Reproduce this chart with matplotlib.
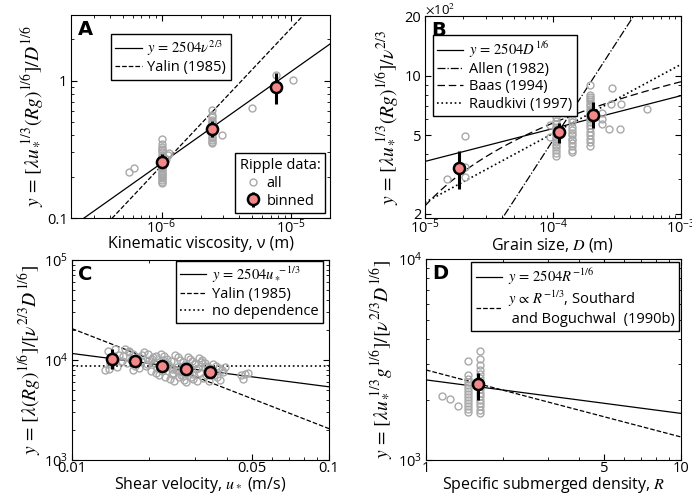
import numpy as np
import matplotlib
matplotlib.use("Agg")
import matplotlib.pyplot as plt
from matplotlib.ticker import FixedLocator, FuncFormatter, NullFormatter

plt.rcParams["font.family"] = ["Open Sans", "DejaVu Sans"]
plt.rcParams["mathtext.fontset"] = "stix"
plt.rcParams["font.size"] = 10

# ---- panel A: kinematic viscosity ----
a_nu_all = [1e-6] * 25 + [5.6e-7, 6.1e-7, 1.05e-6, 1.08e-6, 1.12e-6, 1.15e-6] \
    + [2.46e-6] * 16 + [2.95e-6, 5.0e-6, 7.6e-6, 1.04e-5]
a_y_all = [0.18, 0.184, 0.19, 0.196, 0.2, 0.206, 0.21, 0.214, 0.22, 0.226, 0.23, 0.236,
           0.24, 0.246, 0.25, 0.262, 0.27, 0.28, 0.288, 0.30, 0.31, 0.32, 0.33, 0.345, 0.375,
           0.215, 0.23, 0.26, 0.27, 0.285, 0.295,
           0.35, 0.36, 0.37, 0.38, 0.39, 0.41, 0.42, 0.44, 0.46, 0.47, 0.49, 0.50, 0.52,
           0.54, 0.56, 0.61,
           0.40, 0.63, 1.10, 1.01]
a_nu_bin = [1e-6, 2.46e-6, 7.6e-6]
a_y_bin = [0.257, 0.446, 0.90]
a_y_lo = [0.232, 0.39, 0.67]
a_y_hi = [0.29, 0.505, 1.14]
yalin_a = 2.4e5  # y = c * nu

# ---- panel B: grain size ----
b_d_all = [1.05e-4] * 16 + [1.40e-4] * 14 + [1.95e-4] * 20 \
    + [1.49e-5, 2.05e-5, 2.05e-5, 2.05e-5, 1.16e-4, 9.5e-5, 9.5e-5, 1.25e-4,
       2.4e-4, 2.4e-4, 2.4e-4, 2.87e-4, 2.85e-4, 3.4e-4, 2.76e-4, 3.35e-4, 5.45e-4]
b_y_all = [390, 405, 420, 435, 445, 460, 475, 490, 505, 520, 535, 550, 570, 590, 620, 660,
           410, 420, 440, 455, 470, 480, 500, 515, 530, 550, 580, 600, 640, 670,
           440, 460, 480, 500, 520, 540, 560, 580, 600, 620, 640, 660, 680, 700, 720, 740,
           760, 780, 800, 900,
           298, 492, 343, 305, 690, 560, 490, 650,
           650, 600, 570, 870, 720, 720, 535, 535, 675]
b_d_bin = [1.85e-5, 1.12e-4, 2.07e-4]
b_y_bin = [342, 516, 635]
b_y_lo = [268, 455, 543]
b_y_hi = [413, 576, 734]
allen_c = 4.7e6                   # y = c * D
baas_k, baas_a, baas_b = 4.73, 75.4, 197.0   # y = k*(a*log10(D in mm) + b)
raud_c, raud_p = 12800.0, 0.35    # y = c * D^p

# ---- panel C: shear velocity ----
c_u_all = [0.0135, 0.0138, 0.0141, 0.0144, 0.0147, 0.015, 0.0153, 0.0156, 0.0158, 0.0139,
           0.0161, 0.0164, 0.0167, 0.017, 0.0173, 0.0176, 0.0179, 0.0182, 0.0185, 0.0188,
           0.0166, 0.0172,
           0.0191, 0.0194, 0.0197, 0.02, 0.0203, 0.0206, 0.0209, 0.0212, 0.0215, 0.0218,
           0.0196, 0.0205, 0.0213,
           0.0222, 0.0225, 0.0228, 0.0231, 0.0234, 0.0237, 0.024, 0.0243, 0.0246, 0.0249,
           0.0227, 0.0236, 0.0244, 0.0233, 0.0248,
           0.0252, 0.0255, 0.0258, 0.0261, 0.0264, 0.0267, 0.027, 0.0273, 0.0276, 0.0279,
           0.0257, 0.0266, 0.0274, 0.0262, 0.0271,
           0.0282, 0.0285, 0.0288, 0.0291, 0.0294, 0.0297, 0.03, 0.0303, 0.0306, 0.0284,
           0.0293, 0.0302, 0.0308,
           0.0312, 0.0316, 0.032, 0.0324, 0.0328, 0.0332, 0.0336, 0.034, 0.0344, 0.0348,
           0.0318, 0.033,
           0.0353, 0.0358, 0.0363, 0.0368, 0.0373, 0.0378, 0.0383, 0.0388, 0.0395,
           0.0455, 0.047, 0.0485, 0.0462]
c_y_all = [7900, 12300, 9100, 10600, 12800, 8600, 11200, 9800, 10900, 8200,
           12900, 9300, 12400, 10100, 11600, 8700, 10800, 8300, 9700, 11200, 12000, 7900,
           12000, 8800, 11400, 10000, 7800, 10700, 9400, 7400, 8300, 7000, 9100, 10300, 11000,
           11600, 7700, 10900, 6800, 10300, 9200, 6400, 9700, 8200, 6100, 9900, 8700, 7200,
           8500, 7400,
           11300, 8000, 10600, 6700, 10000, 7500, 9500, 6300, 9000, 6000, 8500, 7100, 8800,
           7800, 6900,
           10800, 7600, 10200, 6800, 9700, 6400, 9100, 8100, 6100, 8600, 7200, 9400, 8300,
           10400, 7400, 9900, 6600, 9300, 7000, 8800, 6200, 8300, 7900, 9600, 8500,
           9200, 7100, 8800, 6700, 8300, 6300, 7900, 7500, 8600,
           7000, 7300, 7400, 6500]
c_u_bin = [0.0143, 0.0176, 0.0224, 0.0278, 0.0344]
c_y_bin = [10300, 9800, 8700, 8100, 7600]
c_y_lo = [8200, 8850, 7600, 7030, 6760]
c_y_hi = [13000, 11100, 9550, 9180, 8510]
yalin_c = 206.0   # y = c / u*
no_dep = 8700.0

# ---- panel D: submerged density ----
d_r_all = [1.46] * 14 + [1.63] * 16 + [1.16, 1.24, 1.33]
d_y_all = [1730, 1790, 1850, 1920, 1990, 2060, 2130, 2200, 2280, 2360, 2450, 2540, 2640, 3100,
           1720, 1780, 1850, 1920, 2000, 2080, 2160, 2250, 2350, 2450, 2560, 2680, 2820,
           2980, 3190, 3480,
           2075, 2020, 1850]
d_r_bin = [1.6]
d_y_bin = [2390]
d_y_lo = [2000]
d_y_hi = [2710]
southard_c = 2806.0  # y = c * R^-1/3

coef = 2504.0
grey = "#a8a8a8"
pink = "#f4878a"

fig = plt.figure(figsize=(6.92, 4.94), dpi=100)
axA = fig.add_axes([0.1026, 0.5587, 0.3743, 0.411])
axB = fig.add_axes([0.614, 0.5587, 0.370, 0.4083])
axC = fig.add_axes([0.104, 0.0688, 0.3714, 0.4049])
axD = fig.add_axes([0.6156, 0.0688, 0.3684, 0.4069])


def style(ax, letter):
    ax.set_xscale("log")
    ax.set_yscale("log")
    ax.tick_params(which="both", direction="in", top=True, right=True, labelsize=10.5)
    ax.tick_params(which="major", length=4)
    ax.tick_params(which="minor", length=2)
    ax.tick_params(axis="x", pad=0.5)
    ax.tick_params(axis="y", pad=2.5)
    for s in ax.spines.values():
        s.set_linewidth(0.8)
    ax.text(0.025, 0.975, letter, transform=ax.transAxes, ha="left", va="top",
            fontsize=14, fontweight="bold", family="DejaVu Sans")


def points(ax, x, y, xb, yb, lo, hi):
    ax.plot(x, y, "o", mfc="none", mec=grey, ms=5, mew=1.0, zorder=2)
    yb = np.array(yb)
    err = [yb - np.array(lo), np.array(hi) - yb]
    return ax.errorbar(xb, yb, yerr=err, fmt="o", color="k", mfc=pink, mec="k",
                       ms=8, mew=1.8, elinewidth=2.2, capsize=0, zorder=5)


leg_kw = dict(fancybox=False, edgecolor="k", framealpha=1, fontsize=10.5,
              handlelength=1.8, borderpad=0.3, labelspacing=0.15, handletextpad=0.4,
              borderaxespad=0)

# A
style(axA, "A")
axA.set_xlim(2e-7, 2e-5)
axA.set_ylim(0.1, 3)
xx = np.logspace(np.log10(2e-7), np.log10(2e-5), 50)
lA1, = axA.plot(xx, coef * xx ** (2 / 3), "k-", lw=0.9)
lA2, = axA.plot(xx, yalin_a * xx, "k--", lw=0.9)
ebA = points(axA, a_nu_all, a_y_all, a_nu_bin, a_y_bin, a_y_lo, a_y_hi)
legA = axA.legend([lA1, lA2], [r"$y\,=\,2504\nu^{2/3}$", "Yalin (1985)"],
                  loc="upper left", bbox_to_anchor=(0.154, 0.906), **leg_kw)
axA.add_artist(legA)
hall, = axA.plot([], [], "o", mfc="none", mec=grey, ms=5, mew=1.0)
axA.legend([hall, ebA], ["all", "binned"], title="Ripple data:", loc="lower right",
           bbox_to_anchor=(0.98, 0.025), fancybox=False, edgecolor="k", framealpha=1,
           fontsize=10.5, title_fontsize=10.5, handlelength=1.0, borderpad=0.3,
           labelspacing=0.2, handletextpad=0.4, borderaxespad=0)
axA.yaxis.set_major_formatter(FuncFormatter(lambda v, p: "%g" % v))
axA.set_ylabel(r"$y\,=\,[\lambda u_*^{\ 1/3}(Rg)^{1/6}]/D^{1/6}$", fontsize=14, labelpad=1)
axA.set_xlabel("Kinematic viscosity, ν (m)", fontsize=11.5, labelpad=-1)

# B
style(axB, "B")
axB.set_xlim(1e-5, 1e-3)
axB.set_ylim(190, 2000)
xx = np.logspace(-5, -3, 80)
lB1, = axB.plot(xx, coef * xx ** (1 / 6), "k-", lw=0.9)
lB2, = axB.plot(xx, allen_c * xx, "k-.", lw=0.9)
lB3, = axB.plot(xx, baas_k * (baas_a * np.log10(xx * 1e3) + baas_b), "k--", lw=0.9,
                dashes=(6, 3))
lB4, = axB.plot(xx, raud_c * xx ** raud_p, "k:", lw=1.2)
points(axB, b_d_all, b_y_all, b_d_bin, b_y_bin, b_y_lo, b_y_hi)
axB.legend([lB1, lB2, lB3, lB4],
           [r"$y\,=\,2504D^{1/6}$", "Allen (1982)", "Baas (1994)", "Raudkivi (1997)"],
           loc="upper left", bbox_to_anchor=(0.031, 0.906), **leg_kw)
axB.yaxis.set_major_locator(FixedLocator([200, 500, 1000, 2000]))
axB.yaxis.set_major_formatter(FuncFormatter(lambda v, p: "%g" % (v / 100)))
axB.yaxis.set_minor_formatter(NullFormatter())
axB.text(0.0, 0.998, r"$\times$10$^2$", transform=axB.transAxes, ha="left", va="bottom",
         fontsize=9.5)
axB.set_ylabel(r"$y\,=\,[\lambda u_*^{\ 1/3}(Rg)^{1/6}]/\nu^{2/3}$", fontsize=14, labelpad=3)
axB.set_xlabel(r"Grain size, $D$ (m)", fontsize=11.5, labelpad=-1)

# C
style(axC, "C")
axC.set_xlim(0.01, 0.1)
axC.set_ylim(1e3, 1e5)
xx = np.logspace(-2, -1, 50)
lC1, = axC.plot(xx, coef * xx ** (-1 / 3), "k-", lw=0.9)
lC2, = axC.plot(xx, yalin_c / xx, "k--", lw=0.9)
lC3, = axC.plot(xx, np.full_like(xx, no_dep), "k:", lw=1.2)
points(axC, c_u_all, c_y_all, c_u_bin, c_y_bin, c_y_lo, c_y_hi)
axC.legend([lC1, lC2, lC3], [r"$y\,=\,2504u_*^{\ -1/3}$", "Yalin (1985)", "no dependence"],
           loc="upper right", bbox_to_anchor=(0.977, 0.995), **leg_kw)
axC.xaxis.set_major_locator(FixedLocator([0.01, 0.05, 0.1]))
axC.xaxis.set_major_formatter(FuncFormatter(lambda v, p: "%g" % v))
axC.xaxis.set_minor_formatter(NullFormatter())
axC.set_ylabel(r"$y\,=\,[\lambda(Rg)^{1/6}]/[\nu^{2/3}D^{1/6}]$", fontsize=14, labelpad=1)
axC.set_xlabel(r"Shear velocity, $u_*$ (m/s)", fontsize=11.5, labelpad=-0.5)

# D
style(axD, "D")
axD.set_xlim(1, 10)
axD.set_ylim(1e3, 1e4)
xx = np.logspace(0, 1, 50)
lD1, = axD.plot(xx, coef * xx ** (-1 / 6), "k-", lw=0.9)
lD2, = axD.plot(xx, southard_c * xx ** (-1 / 3), "k--", lw=0.9)
points(axD, d_r_all, d_y_all, d_r_bin, d_y_bin, d_y_lo, d_y_hi)
axD.legend([lD1, lD2], [r"$y\,=\,2504R^{-1/6}$",
                        r"$y\,\propto\,R^{-1/3}$, Southard" + "\n and Boguchwal  (1990b)"],
           loc="upper right", bbox_to_anchor=(0.993, 0.985), **leg_kw)
axD.xaxis.set_major_locator(FixedLocator([1, 5, 10]))
axD.xaxis.set_major_formatter(FuncFormatter(lambda v, p: "%g" % v))
axD.xaxis.set_minor_formatter(NullFormatter())
axD.set_ylabel(r"$y\,=\,[\lambda u_*^{\ 1/3}g^{1/6}]/[\nu^{2/3}D^{1/6}]$", fontsize=14, labelpad=3)
axD.set_xlabel(r"Specific submerged density, $R$", fontsize=11.5, labelpad=-0.5)

fig.savefig("out.png", dpi=100)
